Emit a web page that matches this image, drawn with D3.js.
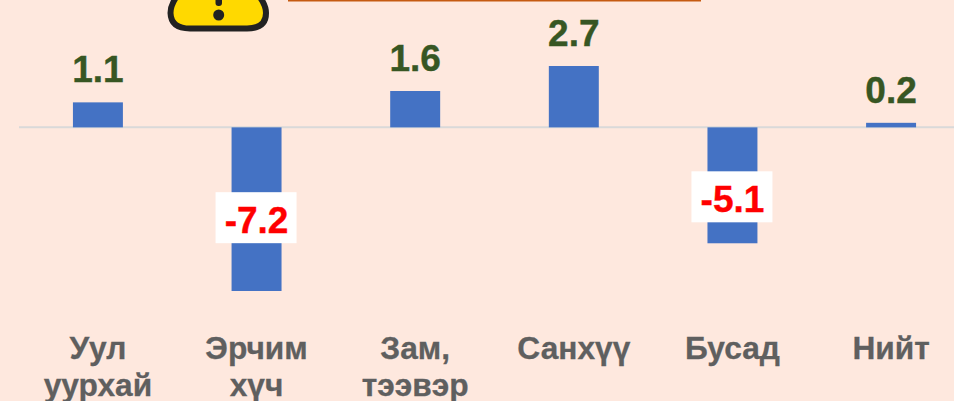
<!DOCTYPE html>
<html>
<head>
<meta charset="utf-8">
<script src="https://cdn.jsdelivr.net/npm/d3@7"></script>
<style>
html, body { margin: 0; padding: 0; background: #FEE8DE; overflow: hidden; }
text { font-family: "Liberation Sans", Arial, sans-serif; font-weight: bold; }
</style>
</head>
<body>
<div id="chart"></div>
<script>
const categories = [['Уул', 'уурхай'], ['Эрчим', 'хүч'], ['Зам,', 'тээвэр'], ['Санхүү'], ['Бусад'], ['Нийт']];
const values = [1.1, -7.2, 1.6, 2.7, -5.1, 0.2];
const valueLabels = ['1.1', '-7.2', '1.6', '2.7', '-5.1', '0.2'];

const width = 954;
const height = 401;

const x = d3.scaleBand()
    .domain(d3.range(values.length))
    .range([19, 970])
    .paddingInner(0.685)
    .paddingOuter(0.34);

const y = d3.scaleLinear()
    .domain([-7.2, 2.7])
    .range([291, 66]);

const svg = d3.select('#chart').append('svg')
    .attr('width', width)
    .attr('height', height)
    .style('display', 'block');

// warning sign and orange rule, both cut off by the top edge
svg.append('path')
    .attr('d', 'M177,-4 Q170.5,5 170.5,13 Q171,28.5 190,28.5 L247,28.5 Q266,28.5 266,13 Q266,5 259,-4 Z')
    .attr('fill', '#FFD900')
    .attr('stroke', '#222222')
    .attr('stroke-width', 6);
svg.append('circle').attr('cx', 218.7).attr('cy', 15).attr('r', 5.5).attr('fill', '#222222');
svg.append('rect').attr('x', 215.5).attr('y', -4).attr('width', 6.5).attr('height', 10).attr('rx', 3).attr('fill', '#222222');
svg.append('rect').attr('x', 288).attr('y', 0).attr('width', 413).attr('height', 1.5).attr('fill', '#C55A11');

// baseline
svg.append('line')
    .attr('x1', 19).attr('x2', width)
    .attr('y1', y(0)).attr('y2', y(0))
    .attr('stroke', '#D9D9D9')
    .attr('stroke-width', 2);

// bars
svg.append('g')
    .selectAll('rect')
    .data(values)
    .join('rect')
    .attr('x', (d, i) => x(i))
    .attr('y', d => y(Math.max(d, 0)))
    .attr('width', x.bandwidth())
    .attr('height', d => Math.abs(y(d) - y(0)))
    .attr('fill', '#4472C4');

// value labels
// top of the white box for a negative bar, the two bars are not offset alike
const boxTop = d => (y(d) + y(0)) / 2 - (d < -6 ? 17 : 14);

const labels = svg.append('g')
    .selectAll('g')
    .data(values)
    .join('g')
    .attr('transform', (d, i) => `translate(${x(i) + x.bandwidth() / 2},0)`);

labels.filter(d => d < 0).append('rect')
    .attr('x', -41)
    .attr('y', boxTop)
    .attr('width', 81)
    .attr('height', 51)
    .attr('fill', '#ffffff');

labels.append('text')
    .attr('text-anchor', 'middle')
    .attr('y', d => d < 0 ? boxTop(d) + 41 : y(d) - 20)
    .attr('font-size', 37)
    .attr('fill', d => d < 0 ? '#FF0000' : '#375623')
    .attr('stroke', d => d < 0 ? '#FF0000' : '#375623')
    .attr('stroke-width', 0.4)
    .text((d, i) => valueLabels[i]);

// category labels
const cats = svg.append('g')
    .selectAll('text')
    .data(categories)
    .join('text')
    .attr('text-anchor', 'middle')
    .attr('font-size', 31.7)
    .attr('fill', '#5F5F5F')
    .attr('stroke', '#5F5F5F')
    .attr('stroke-width', 0.3)
    .attr('transform', (d, i) => `translate(${x(i) + x.bandwidth() / 2},0)`);

cats.selectAll('tspan')
    .data(d => d)
    .join('tspan')
    .attr('x', 0)
    .attr('y', (d, i) => 359 + i * 37)
    .text(d => d);
</script>
</body>
</html>
